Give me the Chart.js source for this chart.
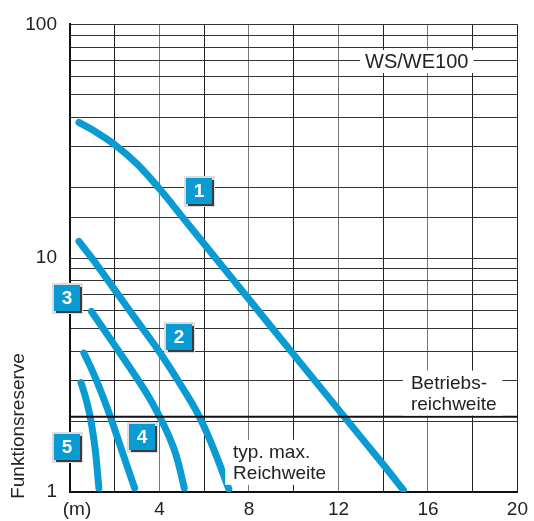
<!DOCTYPE html>
<html>
<head>
<meta charset="utf-8">
<script src="https://cdn.jsdelivr.net/npm/chart.js@4/dist/chart.umd.min.js"></script>
<style>
html,body{margin:0;padding:0;background:#fff;}
#wrap{width:534px;height:521px;position:relative;}
</style>
</head>
<body>
<div id="wrap"><canvas id="c" width="534" height="521"></canvas></div>
<script>
// ---- data ----
const xTickLabels = [4, 8, 12, 16, 20];
const yTickLabels = [1, 10, 100];
const curve1X = [0.4, 1, 1.96, 3, 4, 5, 6, 8, 10, 12, 14, 14.9];
const curve1Y = [38.1, 35.4, 30.8, 25.3, 19.8, 15.1, 11.5, 6.67, 3.87, 2.25, 1.31, 1.02];
const curve2X = [0.4, 0.98, 1.96, 2.98, 4, 5, 5.78, 6.44, 7.1];
const curve2Y = [11.8, 10.0, 7.41, 5.42, 3.97, 2.82, 2.10, 1.51, 1.03];
const curve3X = [0.96, 1.96, 2.98, 3.64, 4.22, 4.71, 5.11];
const curve3Y = [5.92, 4.29, 3.08, 2.44, 1.91, 1.47, 1.04];
const curve4X = [0.62, 0.98, 1.33, 1.78, 2.31, 2.89];
const curve4Y = [3.93, 3.33, 2.77, 2.13, 1.51, 1.04];
const curve5X = [0.49, 0.71, 0.93, 1.13, 1.29];
const curve5Y = [2.94, 2.51, 2.03, 1.51, 1.04];
const operatingRange = 2.1;          // "Betriebsreichweite" level
const curveNames = ['1', '2', '3', '4', '5'];
// label anchors (data units)
const labelAnchors = [
  {t: '1', x: 5.78, y: 19.3},
  {t: '2', x: 4.89, y: 4.6},
  {t: '3', x: -0.13, y: 6.79},
  {t: '4', x: 3.2, y: 1.72},
  {t: '5', x: -0.13, y: 1.56}
];

const BLUE = '#0a9bd2';
const FONT = '"Liberation Sans", Arial, sans-serif';
const zip = (xs, ys) => xs.map((x, i) => ({x: x, y: ys[i]}));

const curveSets = [[curve1X, curve1Y], [curve2X, curve2Y], [curve3X, curve3Y], [curve4X, curve4Y], [curve5X, curve5Y]];
const datasets = curveSets.map((c, i) => ({
  label: curveNames[i],
  data: zip(c[0], c[1]),
  borderColor: BLUE,
  borderWidth: 7,
  borderCapStyle: 'round',
  borderJoinStyle: 'round',
  tension: 0.4,
  pointRadius: 0,
  fill: false
}));
datasets.unshift({
  label: 'Betriebsreichweite',
  data: [{x: 0, y: operatingRange}, {x: 20, y: operatingRange}],
  borderColor: '#111',
  borderWidth: 2,
  pointRadius: 0,
  fill: false
});

const annotate = {
  id: 'annotate',
  afterDatasetsDraw(chart) {
    const ctx = chart.ctx;
    const xs = chart.scales.x, ys = chart.scales.y;
    const px = v => xs.getPixelForValue(v);
    const py = v => ys.getPixelForValue(v);
    ctx.save();
    ctx.fillStyle = '#222';
    // (m) unit label
    ctx.font = '19px ' + FONT;
    ctx.textAlign = 'center';
    ctx.textBaseline = 'middle';
    ctx.fillText('(m)', px(0) + 7, chart.chartArea.bottom + 18);
    // y title
    ctx.save();
    ctx.translate(19, py(1) - 66);
    ctx.rotate(-Math.PI / 2);
    ctx.fillText('Funktionsreserve', 0, 0);
    ctx.restore();

    // WS/WE100 with white box
    ctx.font = '20px ' + FONT;
    let cx = px(15.5), cy = py(69);
    let w = ctx.measureText('WS/WE100').width;
    ctx.fillStyle = '#fff';
    ctx.fillRect(cx - w / 2 - 5, cy - 12, w + 10, 23);
    ctx.fillStyle = '#222';
    ctx.fillText('WS/WE100', cx, cy);

    // multi-line notes
    ctx.font = '19px ' + FONT;
    ctx.textAlign = 'left';
    ctx.textBaseline = 'alphabetic';
    const notes = [
      {lines: ['typ. max.', 'Reichweite'], x: 7.29, y: 1.40},
      {lines: ['Betriebs-', 'reichweite'], x: 15.24, y: 2.77}
    ];
    notes.forEach(n => {
      const lx = px(n.x), by = py(n.y);
      const ww = Math.max(...n.lines.map(s => ctx.measureText(s).width));
      ctx.fillStyle = '#fff';
      ctx.fillRect(lx - 8, by - 18, ww + 14, 45);
      ctx.fillStyle = '#222';
      n.lines.forEach((s, i) => ctx.fillText(s, lx, by + i * 21));
    });

    // numbered boxes
    ctx.textAlign = 'center';
    ctx.textBaseline = 'middle';
    ctx.font = 'bold 19px ' + FONT;
    labelAnchors.forEach(l => {
      const x = Math.round(px(l.x)), y = Math.round(py(l.y));
      ctx.fillStyle = '#dcdcdc';
      ctx.fillRect(x - 15, y - 15, 31, 31);
      ctx.fillStyle = '#3c3c3c';
      ctx.fillRect(x - 11, y - 11, 26, 26);
      ctx.fillStyle = BLUE;
      ctx.fillRect(x - 13, y - 13, 26, 26);
      ctx.fillStyle = '#fff';
      ctx.fillText(l.t, x, y + 1);
    });
    ctx.restore();
  }
};

new Chart(document.getElementById('c'), {
  type: 'line',
  data: {datasets: datasets},
  plugins: [annotate],
  options: {
    responsive: false,
    animation: false,
    layout: {padding: {top: 20, right: 14, left: 0, bottom: 0}},
    plugins: {legend: {display: false}, tooltip: {enabled: false}},
    scales: {
      x: {
        type: 'linear', min: 0, max: 20,
        afterFit: s => { s.height = 29; },
        border: {display: true, color: '#111', width: 2},
        grid: {
          drawTicks: false,
          color: c => (c.tick && c.tick.value % 4 === 0 && c.tick.value > 0 && c.tick.value < 20) ? '#777' : '#222',
          lineWidth: 1
        },
        ticks: {
          stepSize: 2, autoSkip: false, maxRotation: 0, padding: 6,
          color: '#222', font: {family: FONT, size: 19},
          callback: v => xTickLabels.includes(v) ? String(v) : ''
        }
      },
      y: {
        type: 'logarithmic', min: 1, max: 100,
        afterFit: s => { s.width = 70; },
        border: {display: true, color: '#111', width: 2},
        grid: {drawTicks: false, color: '#333', lineWidth: 1},
        ticks: {
          autoSkip: false, padding: 13,
          color: '#222', font: {family: FONT, size: 19},
          callback: v => yTickLabels.includes(v) ? String(v) : ''
        }
      }
    }
  }
});
</script>
</body>
</html>
